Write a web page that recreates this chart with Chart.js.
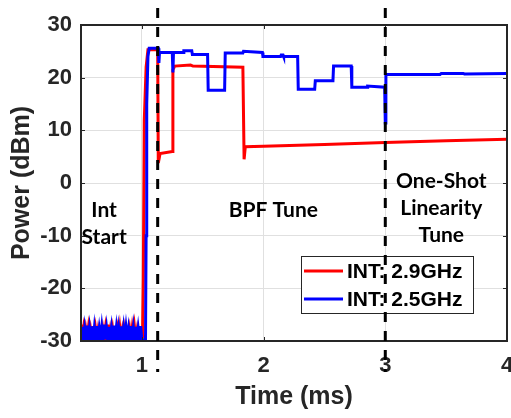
<!DOCTYPE html>
<html><head><meta charset="utf-8">
<script src="https://cdn.jsdelivr.net/npm/chart.js@4.4.0/dist/chart.umd.min.js"></script>
<style>html,body{margin:0;padding:0;background:#fff;}#wrap{width:511px;height:418px;}</style>
</head><body><div id="wrap"><canvas id="c" width="511" height="418"></canvas></div>
<script>
// ---- data ----
const xTicks = [1, 2, 3, 4];
const yTicks = [-30, -20, -10, 0, 10, 20, 30];
const noiseT = [0.50,0.51,0.52,0.53,0.54,0.55,0.56,0.57,0.58,0.59,0.60,0.61,0.62,0.63,0.64,0.65,0.66,0.67,0.68,0.69,0.70,0.71,0.72,0.73,0.74,0.75,0.76,0.77,0.78,0.79,0.80,0.81,0.82,0.83,0.84,0.85,0.86,0.87,0.88,0.89,0.90,0.91,0.92,0.93,0.94,0.95,0.96,0.97,0.98,0.99,1.00];
const redNoise = [-26.9,-29.7,-27.8,-29.9,-27.9,-29.5,-27.6,-29.8,-28.0,-29.6,-27.2,-29.9,-27.8,-29.7,-28.0,-29.5,-27.1,-29.8,-27.9,-29.6,-27.7,-29.9,-26.9,-29.7,-28.0,-29.5,-27.8,-29.8,-27.3,-29.6,-27.9,-29.9,-27.6,-29.7,-28.0,-29.5,-27.8,-29.8,-27.2,-29.6,-27.9,-29.9,-27.7,-29.7,-27.4,-29.5,-28.0,-29.8,-27.2,-29.6,-27.8];
const blueNoise = [-29.6,-27.3,-29.9,-27.6,-29.5,-27.1,-29.8,-27.6,-29.7,-27.2,-29.9,-27.5,-29.6,-27.2,-29.8,-27.7,-29.5,-27.4,-29.9,-26.9,-29.7,-27.6,-29.8,-27.3,-29.6,-27.6,-29.9,-27.1,-29.5,-27.5,-29.8,-27.6,-29.6,-27.2,-29.9,-27.6,-29.7,-27.4,-29.5,-27.7,-29.8,-27.2,-29.6,-27.5,-29.9,-27.3,-29.7,-27.6,-29.5,-27.2,-29.8];
const redT = [1.005, 1.012, 1.02, 1.035, 1.05, 1.13, 1.135, 1.15, 1.25, 1.255, 1.27, 1.40, 1.42, 1.83, 1.84, 1.85, 2.00, 2.50, 3.00, 3.50, 4.00];
const redP = [-29.5, -18.0, 12.0, 22.0, 25.3, 25.3, 3.8, 5.6, 6.0, 21.5, 22.2, 22.4, 22.2, 22.0, 4.5, 6.9, 7.0, 7.3, 7.7, 8.0, 8.3];
const blueT = [1.03, 1.035, 1.04, 1.05, 1.06, 1.135, 1.14, 1.145, 1.25, 1.255, 1.26, 1.34, 1.345, 1.41, 1.415, 1.54, 1.545, 1.68, 1.685, 1.83, 1.835, 1.99, 1.995, 2.14, 2.145, 2.16, 2.165, 2.28, 2.285, 2.42, 2.425, 2.57, 2.575, 2.72, 2.725, 2.85, 2.855, 2.995, 3.0, 3.005, 3.45, 3.46, 3.64, 3.65, 4.0];
const blueP = [-29.7, -10.0, 15.0, 24.0, 25.6, 25.6, 22.8, 24.8, 24.8, 21.0, 24.8, 24.8, 25.1, 25.1, 24.4, 24.4, 17.6, 17.6, 24.7, 24.7, 25.0, 24.8, 24.0, 24.0, 24.3, 24.3, 24.0, 24.0, 17.8, 17.8, 19.4, 19.4, 22.2, 22.2, 18.2, 18.2, 18.4, 18.2, 11.4, 20.6, 20.6, 20.8, 20.8, 20.7, 20.8];
const phaseMarks = [1.13, 3.0];
const seriesNames = ['INT: 2.9GHz', 'INT: 2.5GHz'];
const seriesColors = ['#ff0000', '#0000ff'];
const phaseLabels = [
  {x: 0.69, lines: ['Int', 'Start']},
  {x: 2.08, lines: ['BPF Tune']},
  {x: 3.46, lines: ['One-Shot', 'Linearity', 'Tune'], top: true}
];

function pts(t, v) { return t.map((x, i) => ({x: x, y: v[i]})); }
const redData = pts(noiseT, redNoise).concat(pts(redT, redP));
const blueData = pts(noiseT, blueNoise).concat(pts(blueT, blueP));

const DARK = '#262626';

const overlay = {
  id: 'overlay',
  afterDatasetsDraw(chart) {
    const {ctx, chartArea: a, scales: {x, y}} = chart;
    ctx.save();
    // frame
    ctx.strokeStyle = DARK; ctx.lineWidth = 2;
    ctx.strokeRect(a.left, a.top, a.right - a.left, a.bottom - a.top);
    // inward ticks
    ctx.lineWidth = 1;
    ctx.beginPath();
    xTicks.forEach(v => { const px = Math.round(x.getPixelForValue(v)) + 0.5;
      ctx.moveTo(px, a.bottom); ctx.lineTo(px, a.bottom - 4);
      ctx.moveTo(px, a.top); ctx.lineTo(px, a.top + 4); });
    yTicks.forEach(v => { const py = Math.round(y.getPixelForValue(v)) + 0.5;
      ctx.moveTo(a.left, py); ctx.lineTo(a.left + 4, py);
      ctx.moveTo(a.right, py); ctx.lineTo(a.right - 4, py); });
    ctx.stroke();
    // legend box
    const lx = 301, ly = 256, lw = 172, lh = 57;
    ctx.fillStyle = '#fff'; ctx.fillRect(lx, ly, lw, lh);
    ctx.strokeStyle = DARK; ctx.lineWidth = 1;
    ctx.strokeRect(lx + 0.5, ly + 0.5, lw, lh);
    ctx.font = 'bold 21px "Liberation Sans", Arial, sans-serif';
    ctx.textBaseline = 'middle'; ctx.textAlign = 'left';
    seriesNames.forEach((n, i) => {
      const yy = 271 + i * 28;
      ctx.strokeStyle = seriesColors[i]; ctx.lineWidth = 3;
      ctx.beginPath(); ctx.moveTo(304, yy); ctx.lineTo(343, yy); ctx.stroke();
      ctx.fillStyle = '#000'; ctx.fillText(n, 347, yy + 1);
    });
    // dashed phase markers
    ctx.strokeStyle = '#000'; ctx.lineWidth = 3; ctx.setLineDash([10, 9]);
    phaseMarks.forEach(v => {
      const px = x.getPixelForValue(v);
      ctx.beginPath(); ctx.moveTo(px, 8); ctx.lineTo(px, 372); ctx.stroke();
    });
    ctx.setLineDash([]);
    // phase labels
    ctx.font = 'bold 21px Lato, "Open Sans", sans-serif';
    ctx.fillStyle = '#000'; ctx.textAlign = 'center'; ctx.textBaseline = 'alphabetic';
    phaseLabels.forEach(p => {
      const px = x.getPixelForValue(p.x);
      const y0 = p.top ? 188 : 217;
      p.lines.forEach((t, i) => ctx.fillText(t, px, y0 + i * 27));
    });
    ctx.restore();
  }
};

new Chart(document.getElementById('c'), {
  type: 'line',
  data: {
    datasets: [
      {label: seriesNames[0], data: redData, borderColor: seriesColors[0], borderWidth: 3, pointRadius: 0, tension: 0, order: 1},
      {label: seriesNames[1], data: blueData, borderColor: seriesColors[1], borderWidth: 3, pointRadius: 0, tension: 0, order: 0}
    ]
  },
  options: {
    responsive: false,
    animation: false,
    events: [],
    layout: {padding: {left: 0, right: 4, top: 25, bottom: 0}},
    plugins: {legend: {display: false}, tooltip: {enabled: false}},
    scales: {
      x: {
        type: 'linear', min: 0.5, max: 4,
        afterBuildTicks: s => { s.ticks = xTicks.map(v => ({value: v})); },
        afterFit: s => { s.height = 77; s.paddingLeft = 0; s.paddingRight = 0; },
        grid: {color: '#e0e0e0', lineWidth: 1, drawTicks: false},
        border: {display: false},
        ticks: {color: DARK, padding: 12, font: {family: '"Liberation Sans", Arial, sans-serif', size: 22, weight: 'bold'}, maxRotation: 0, autoSkip: false},
        title: {display: true, text: 'Time (ms)', color: DARK, padding: {top: 0, bottom: 8}, font: {family: '"Liberation Sans", Arial, sans-serif', size: 25, weight: 'bold', lineHeight: 1}}
      },
      y: {
        type: 'linear', min: -30, max: 30,
        afterBuildTicks: s => { s.ticks = yTicks.map(v => ({value: v})); },
        afterFit: s => { s.width = 81; s.paddingTop = 0; s.paddingBottom = 0; },
        grid: {color: '#e0e0e0', lineWidth: 1, drawTicks: false},
        border: {display: false},
        ticks: {color: DARK, padding: 9, font: {family: '"Liberation Sans", Arial, sans-serif', size: 22, weight: 'bold'}, autoSkip: false},
        title: {display: true, text: 'Power (dBm)', color: DARK, padding: {top: 10, bottom: 0}, font: {family: '"Liberation Sans", Arial, sans-serif', size: 25, weight: 'bold', lineHeight: 1}}
      }
    }
  },
  plugins: [overlay]
});
</script>
</body></html>
